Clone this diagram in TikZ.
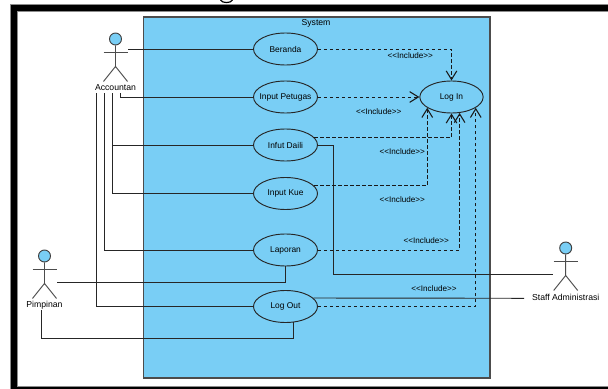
\documentclass[tikz,border=0pt]{standalone}
\usepackage{fontspec}
\setmainfont{Liberation Sans}
\usetikzlibrary{arrows.meta,shapes.geometric}
\definecolor{sysblue}{RGB}{121,206,245}
\newcommand{\uctext}[1]{\makebox[0pt]{#1}}
\tikzset{
	usecase/.style={draw=black!85,ellipse,fill=sysblue,line width=0.7pt,minimum width=48pt,minimum height=24pt,inner sep=0pt,font=\fontsize{6.3}{7}\selectfont},
	actorhead/.style={draw=black!75,circle,fill=sysblue,line width=0.7pt,minimum size=9pt,inner sep=0pt},
	actorbody/.style={draw=black!70,line width=0.7pt},
	actorname/.style={font=\fontsize{6.5}{7}\selectfont,inner sep=0pt},
	assoc/.style={draw=black!85,line width=0.7pt},
	incl/.style={draw=black!90,line width=0.7pt,dash pattern=on 2.6pt off 1.9pt,-{Straight Barb[length=6.5pt,width=8pt,line width=0.8pt]}},
	incllabel/.style={font=\fontsize{6.1}{7}\selectfont,inner sep=0pt}
}
\begin{document}
\begin{tikzpicture}[x=0.75pt,y=-0.75pt]

	\useasboundingbox (0,0) rectangle (608,389);

	% ---- frame

	\fill[white] (0,0) rectangle (608,389);
	\fill[black,even odd rule] (10,4) rectangle (608,389) (17,11) rectangle (608,386);
	\draw[black!45,line width=0.6pt] (608,4) -- (10,4) -- (10,389);
	\draw[black!45,line width=0.6pt] (608,11) -- (17,11) -- (17,386) -- (608,386);
	\draw[black,line width=0.9pt] (220.5,0) .. controls (222,3.4) and (231,3.4) .. (232.5,0);

	% ---- system

	\draw[draw=black!70,fill=sysblue,line width=0.8pt] (143.5,17) rectangle (490,378);
	\node[actorname] (system) at (316,23) {System};

	% ---- use cases

	\node[usecase] (beranda) at (285.5,49) {\uctext{Beranda}};
	\node[usecase] (petugas) at (285.5,97) {\uctext{Input Petugas}};
	\node[usecase] (infut) at (285.5,145) {\uctext{Infut Daili}};
	\node[usecase] (kue) at (285.5,193.5) {\uctext{Input Kue}};
	\node[usecase] (laporan) at (285.5,250) {\uctext{Laporan}};
	\node[usecase] (logout) at (285.5,306.5) {\uctext{Log Out}};
	\node[usecase,minimum width=47.5pt] (login) at (451.5,97) {\uctext{Log In}};

	% ---- actors

	\foreach \name/\x/\y/\lbl in {acc/115.5/39/Accountan,pim/44.5/256/Pimpinan,staff/565.7/248/Staff Administrasi} {
		\node[actorhead] (\name) at (\x,\y) {};
		\node[actorname] (\name lbl) at (\x,\y+49) {\lbl};
		\draw[actorbody] (\name.south) -- ++(0,21) -- ++(-12,15) ++(12,-15) -- ++(12,15);
		\draw[actorbody] (\x-12,\y+13) -- (\x+12,\y+13);
	}

	% ---- free ends

	\coordinate (accA) at (128,49);
	\coordinate (accB) at (120,93);
	\coordinate (accC) at (112,93);
	\coordinate (accD) at (104,93);
	\coordinate (accE) at (96.5,93);
	\coordinate (pimA) at (57,282.5);
	\coordinate (pimB) at (41,310);
	\coordinate (pimTurn) at (41,338.7);
	\coordinate (staffA) at (553,274.3);
	\coordinate (staffB) at (524,298.3);
	\coordinate (staffTurn) at (333.3,274.3);

	% ---- associations

	\draw[assoc] (accA) -- (beranda.west);
	\draw[assoc] (accB) |- (petugas.west);
	\draw[assoc] (accC) |- (infut.west);
	\draw[assoc] (accC) |- (kue.west);
	\draw[assoc] (accD) |- (laporan.west);
	\draw[assoc] (accE) |- (logout.west);
	\draw[assoc] (pimA) -| (laporan.south);
	\draw[assoc] (pimB) -- (pimTurn) -| (logout.298);
	\draw[assoc] (infut.east) -| (staffTurn) -- (staffA);
	\draw[assoc] (logout.17) -- (staffB);

	% ---- includes

	\draw[incl] (beranda.east) -| (login.north);
	\draw[incl] (petugas.east) -- (login.west);
	\draw[incl] (infut.15) -| (login.south);
	\draw[incl] (kue.15) -| (login.204);
	\draw[incl] (laporan.east) -| (login.297);
	\draw[incl] (logout.east) -| (login.336);

	% ---- labels

	\foreach \i/\x/\y in {a/410.3/55.5,b/378.7/111.7,c/402.3/151.7,d/402.3/200,e/426.3/240.3,f/434/289} {
		\node[incllabel] (incl\i) at (\x,\y) {<{}<Include>{}>};
	}

\end{tikzpicture}
\end{document}
